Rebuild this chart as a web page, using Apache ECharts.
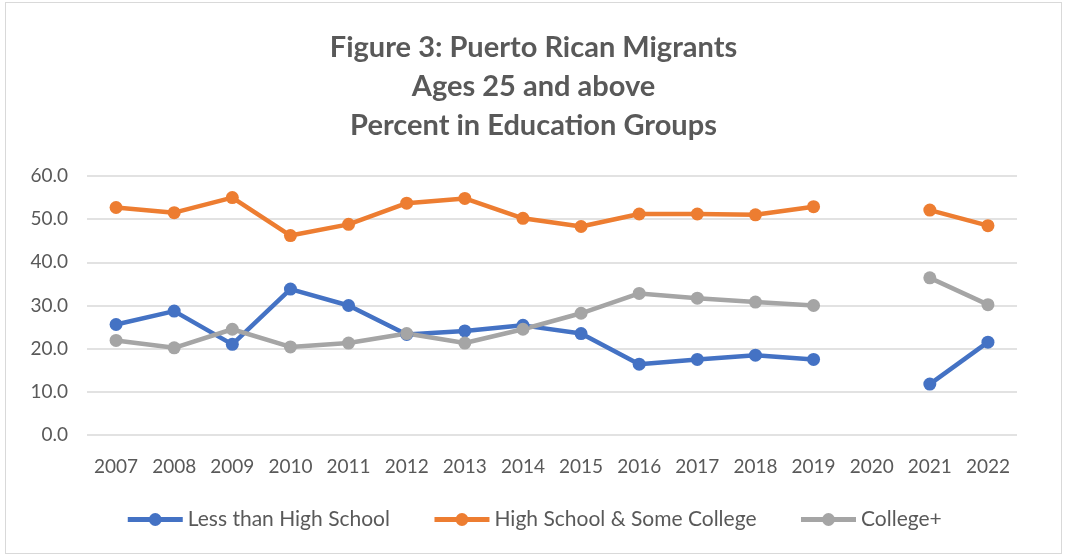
<!DOCTYPE html>
<html>
<head>
<meta charset="utf-8">
<script src="https://cdn.jsdelivr.net/npm/echarts@6/dist/echarts.min.js"></script>
<style>
html,body{margin:0;padding:0;background:#fff;}
#chart{position:absolute;left:5px;top:2px;width:1057px;height:552px;border:1px solid #d9d9d9;box-sizing:border-box;}
</style>
</head>
<body>
<div id="chart"></div>
<script>
const years = ['2007','2008','2009','2010','2011','2012','2013','2014','2015','2016','2017','2018','2019','2020','2021','2022'];
const lessThanHS = [25.6, 28.7, 21.0, 33.8, 30.0, 23.3, 24.1, 25.4, 23.5, 16.4, 17.5, 18.5, 17.5, null, 11.8, 21.5];
const hsSomeCollege = [52.7, 51.5, 55.0, 46.2, 48.8, 53.7, 54.8, 50.2, 48.3, 51.2, 51.2, 51.0, 52.9, null, 52.1, 48.5];
const collegePlus = [21.9, 20.2, 24.5, 20.4, 21.3, 23.5, 21.3, 24.5, 28.2, 32.8, 31.7, 30.8, 30.0, null, 36.4, 30.2];
const seriesNames = ['Less than High School', 'High School & Some College', 'College+'];
const colors = ['#4472C4', '#ED7D31', '#A5A5A5'];

const chart = echarts.init(document.getElementById('chart'));
const font = 'Lato, "Open Sans", sans-serif';
function mk(name, data, color) {
  return {
    name: name, type: 'line', data: data, connectNulls: false,
    symbol: 'circle', symbolSize: 13,
    lineStyle: {width: 4.5, color: color},
    itemStyle: {color: color},
    emphasis: {disabled: true}
  };
}
chart.setOption({
  animation: false,
  color: colors,
  title: {
    text: 'Figure 3: Puerto Rican Migrants\nAges 25 and above\nPercent in Education Groups',
    left: 'center', top: 20,
    textStyle: {fontFamily: font, fontSize: 29, fontWeight: 'bold', color: '#595959', lineHeight: 39}
  },
  grid: {left: 81, right: 44, top: 173, bottom: 118},
  xAxis: {
    type: 'category', data: years, boundaryGap: true,
    axisLine: {show: false}, axisTick: {show: false},
    axisLabel: {fontFamily: font, fontSize: 19, color: '#595959', margin: 22}
  },
  yAxis: {
    type: 'value', min: 0, max: 60, interval: 10,
    axisLine: {show: false}, axisTick: {show: false},
    axisLabel: {fontFamily: font, fontSize: 19, color: '#595959', margin: 19, formatter: v => v.toFixed(1)},
    splitLine: {lineStyle: {color: '#d9d9d9', width: 1.5}}
  },
  legend: {
    bottom: 18, left: 'center', itemGap: 42, itemWidth: 55, itemHeight: 16,
    lineStyle: {width: 5},
    textStyle: {fontFamily: font, fontSize: 21, color: '#595959'},
    data: seriesNames
  },
  series: [
    mk(seriesNames[0], lessThanHS, colors[0]),
    mk(seriesNames[1], hsSomeCollege, colors[1]),
    mk(seriesNames[2], collegePlus, colors[2])
  ]
});
</script>
</body>
</html>
